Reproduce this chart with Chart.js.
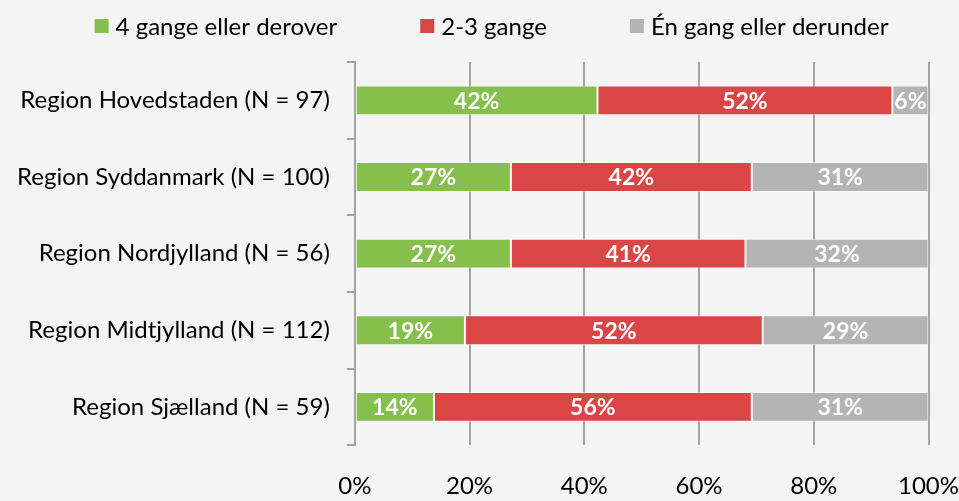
<!DOCTYPE html>
<html><head><meta charset="utf-8">
<script src="https://cdn.jsdelivr.net/npm/chart.js@4/dist/chart.umd.min.js"></script>
<style>html,body{margin:0;padding:0;background:#f4f4f4;}#wrap{width:959px;height:501px;}</style>
</head><body><div id="wrap"><canvas id="c" width="959" height="501"></canvas></div>
<script>
const categories = ["Region Hovedstaden (N = 97)","Region Syddanmark (N = 100)","Region Nordjylland (N = 56)","Region Midtjylland (N = 112)","Region Sjælland (N = 59)"];
const seriesNames = ["4 gange eller derover","2-3 gange","Én gang eller derunder"];
const fourPlus = [42.3, 27.2, 27.2, 19.2, 13.8];
const twoThree = [51.4, 42.0, 40.9, 51.9, 55.4];
const onceOrLess = [6.3, 30.8, 31.9, 28.9, 30.8];
const labelFour = ["42%","27%","27%","19%","14%"];
const labelTwo = ["52%","42%","41%","52%","56%"];
const labelOne = ["6%","31%","32%","29%","31%"];
const xTicks = [0,20,40,60,80,100];

const FONT = "Lato, 'Open Sans', sans-serif";
const colors = ["#86bf4c","#da4645","#b4b4b4"];
const labelSets = [labelFour, labelTwo, labelOne];

const labelPlugin = {
  id:'barLabels',
  afterDatasetsDraw(chart){
    const ctx = chart.ctx;
    ctx.save();
    ctx.fillStyle = '#ffffff';
    ctx.font = "bold 23px " + FONT;
    ctx.textAlign = 'center';
    ctx.textBaseline = 'middle';
    chart.data.datasets.forEach((ds, di) => {
      const meta = chart.getDatasetMeta(di);
      meta.data.forEach((el, i) => {
        const p = el.getProps(['x','y','base'], true);
        const cx = (p.x + p.base)/2;
        ctx.fillText(labelSets[di][i], cx, p.y + 1);
      });
    });
    ctx.restore();
  }
};
const legendPlugin = {
  id:'customLegend',
  afterDraw(chart){
    const ctx = chart.ctx;
    ctx.save();
    ctx.font = "24px " + FONT;
    ctx.textBaseline = 'middle';
    ctx.textAlign = 'left';
    const box = 14, gapText = 7, gapItem = 83;
    const ds = chart.data.datasets;
    const widths = ds.map(d => ctx.measureText(d.label).width);
    const total = widths.reduce((a,w)=>a+box+gapText+w,0) + gapItem*(ds.length-1);
    let x = chart.width/2 + 12 - total/2;
    const y = 26;
    ds.forEach((d,i)=>{
      ctx.fillStyle = d.backgroundColor;
      ctx.fillRect(x, y-7, box, box);
      ctx.fillStyle = '#000';
      ctx.fillText(d.label, x+box+gapText, y+1);
      x += box + gapText + widths[i] + gapItem;
    });
    ctx.restore();
  }
};
const bgPlugin = {id:'bg', beforeDraw(chart){const c=chart.ctx;c.save();c.fillStyle='#f4f4f4';c.fillRect(0,0,chart.width,chart.height);c.restore();}};

new Chart(document.getElementById('c'), {
  type:'bar',
  data:{
    labels: categories,
    datasets:[
      {label:seriesNames[0], data:fourPlus, backgroundColor:colors[0]},
      {label:seriesNames[1], data:twoThree, backgroundColor:colors[1]},
      {label:seriesNames[2], data:onceOrLess, backgroundColor:colors[2]}
    ].map(d=>Object.assign(d,{borderColor:'rgba(255,255,255,0.6)',borderWidth:1,borderSkipped:false,categoryPercentage:0.39,barPercentage:1}))
  },
  options:{
    indexAxis:'y',
    responsive:false,
    animation:false,
    layout:{padding:{left:0,right:0,top:62,bottom:0}},
    plugins:{
      legend:{display:false},
      tooltip:{enabled:false}
    },
    scales:{
      x:{stacked:true,min:0,max:100,afterBuildTicks(ax){ax.ticks = xTicks.map(v=>({value:v}));},
        ticks:{callback:v=>v+'%',font:{family:FONT,size:24},color:'#000',padding:0,maxRotation:0},
        grid:{color:'#a3a3a3',lineWidth:2,drawTicks:true,tickLength:27,tickColor:'rgba(0,0,0,0)'},border:{display:false}},
      y:{stacked:true,
        ticks:{font:{family:FONT,size:24},color:'#000',padding:17},
        grid:{color:'#a3a3a3',lineWidth:2,drawOnChartArea:false,tickLength:8,offset:true},
        border:{display:true,color:'#a3a3a3',width:2}}
    }
  },
  plugins:[bgPlugin,labelPlugin,legendPlugin]
});
</script></body></html>
